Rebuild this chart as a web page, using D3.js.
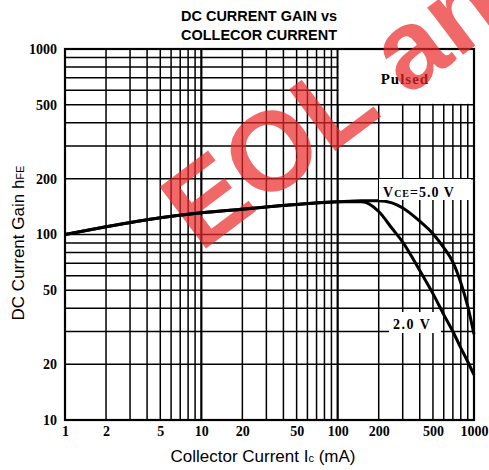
<!DOCTYPE html>
<html><head><meta charset="utf-8">
<script src="https://cdn.jsdelivr.net/npm/d3@7"></script>
<style>body{margin:0;background:#fff}svg{display:block}</style>
</head><body><svg id="c" width="489" height="470"></svg>
<script>
// ---- data ----
const titleLines = ["DC CURRENT GAIN vs", "COLLECOR CURRENT"];
const xTickValues = [1, 2, 5, 10, 20, 50, 100, 200, 500, 1000];
const yTickValues = [10, 20, 50, 100, 200, 500, 1000];
const current5V = [1, 2, 5, 10, 20, 50, 100, 150, 200, 250, 300, 400, 500, 600, 700, 800, 900, 1000];
const gain5V    = [100, 110, 123, 131, 137, 145, 150, 152, 152, 148, 139, 118, 101, 85, 71, 55, 41, 29];
const current2V = [1, 2, 5, 10, 20, 50, 100, 150, 200, 250, 300, 400, 500, 600, 700, 800, 900, 1000];
const gain2V    = [100, 110, 123, 131, 137, 145, 150, 150, 133, 108, 91, 64, 48, 37, 30, 24.5, 20.6, 17.5];
const seriesLabels = ["5.0 V", "2.0 V"];
const watermarkText = "EOL an";

const svg = d3.select("#c");
const L = 65, R = 474, T = 49, B = 420;
const x = d3.scaleLog().domain([1, 1000]).range([L, R]);
const y = d3.scaleLog().domain([10, 1000]).range([B, T]);

// gridlines
const gridX = [], gridY = [];
for (const d of [1, 10, 100]) for (let k = 1; k <= 9; k++) gridX.push(d * k);
gridX.push(1000);
for (const d of [10, 100]) for (let k = 1; k <= 9; k++) gridY.push(d * k);
gridY.push(1000);

const g = svg.append("g");
g.selectAll(".gx").data(gridX).join("line")
  .attr("x1", d => x(d)).attr("x2", d => x(d)).attr("y1", T).attr("y2", B)
  .attr("stroke", "#000").attr("stroke-width", d => [10,100].includes(d) ? 2.2 : 1.5);
g.selectAll(".gy").data(gridY).join("line")
  .attr("y1", d => y(d)).attr("y2", d => y(d)).attr("x1", L).attr("x2", R)
  .attr("stroke", "#000").attr("stroke-width", 1.5);

// Pulsed box (white area)
svg.append("rect").attr("x", x(100) + 1).attr("y", T).attr("width", R - x(100) - 1).attr("height", y(500) - T - 1).attr("fill", "#fff");
svg.append("text").attr("x", x(100) + 43).attr("y", 84)
  .attr("font-family", "Liberation Serif, serif").attr("font-weight", "bold").attr("font-size", 15)
  .attr("letter-spacing", 1).text("Pulsed");

// frame
svg.append("rect").attr("x", L).attr("y", T).attr("width", R - L).attr("height", B - T)
  .attr("fill", "none").attr("stroke", "#000").attr("stroke-width", 2.2);

// watermark
svg.append("text").attr("transform", "translate(200,253) rotate(-37)")
  .attr("font-family", "Liberation Sans, Arial, sans-serif").attr("font-weight", "bold").attr("font-size", 112)
  .attr("fill", "rgb(235,40,40)").attr("fill-opacity", 0.7).text(watermarkText);

// curves
const line = d3.line().x(d => x(d[0])).y(d => y(d[1])).curve(d3.curveMonotoneX);
[[current5V, gain5V], [current2V, gain2V]].forEach(([c, v]) => {
  svg.append("path").datum(c.map((ci, i) => [ci, v[i]])).attr("d", line)
    .attr("fill", "none").attr("stroke", "#000").attr("stroke-width", 3).attr("stroke-linejoin", "round");
});

// curve labels
svg.append("rect").attr("x", 379).attr("y", 179).attr("width", 92).attr("height", 21).attr("fill", "#fff");
const t5 = svg.append("text").attr("x", 383).attr("y", 197)
  .attr("font-family", "Liberation Serif, serif").attr("font-weight", "bold").attr("font-size", 14).attr("letter-spacing", 1);
t5.append("tspan").text("V");
t5.append("tspan").attr("font-size", 10).text("CE");
t5.append("tspan").text("=" + seriesLabels[0]);
svg.append("rect").attr("x", 389).attr("y", 312).attr("width", 52).attr("height", 21).attr("fill", "#fff");
svg.append("text").attr("x", 393).attr("y", 329)
  .attr("font-family", "Liberation Serif, serif").attr("font-weight", "bold").attr("font-size", 14).attr("letter-spacing", 1.5)
  .text(seriesLabels[1]);

// axes tick labels
const xAxis = d3.axisBottom(x).tickValues(xTickValues).tickFormat(d3.format("d")).tickSize(0).tickPadding(6);
const gx = svg.append("g").attr("transform", `translate(0,${B})`).call(xAxis);
gx.select(".domain").remove();
gx.selectAll("text").attr("font-family", "Liberation Serif, serif").attr("font-weight", "bold").attr("font-size", 14).attr("fill", "#000");
const yAxis = d3.axisLeft(y).tickValues(yTickValues).tickFormat(d3.format("d")).tickSize(0).tickPadding(8);
const gy = svg.append("g").attr("transform", `translate(${L},0)`).call(yAxis);
gy.select(".domain").remove();
gy.selectAll("text").attr("font-family", "Liberation Serif, serif").attr("font-weight", "bold").attr("font-size", 14).attr("fill", "#000");

// title
titleLines.forEach((t, i) => {
  svg.append("text").attr("x", 259).attr("y", 21 + i * 19).attr("text-anchor", "middle")
    .attr("font-family", "Liberation Sans, Arial, sans-serif").attr("font-weight", "bold").attr("font-size", 15)
    .attr("textLength", 156).attr("lengthAdjust", "spacingAndGlyphs").text(t);
});

// axis titles
const xt = svg.append("text").attr("x", 263).attr("y", 462).attr("text-anchor", "middle")
  .attr("font-family", "Liberation Sans, Arial, sans-serif").attr("font-size", 17);
xt.append("tspan").text("Collector Current  I");
xt.append("tspan").attr("font-size", 11).text("c");
xt.append("tspan").text(" (mA)");
const yt = svg.append("text").attr("transform", "translate(24,243) rotate(-90)").attr("text-anchor", "middle")
  .attr("font-family", "Liberation Sans, Arial, sans-serif").attr("font-size", 17);
yt.append("tspan").text("DC Current Gain  h");
yt.append("tspan").attr("font-size", 11).text("FE");
</script></body></html>
